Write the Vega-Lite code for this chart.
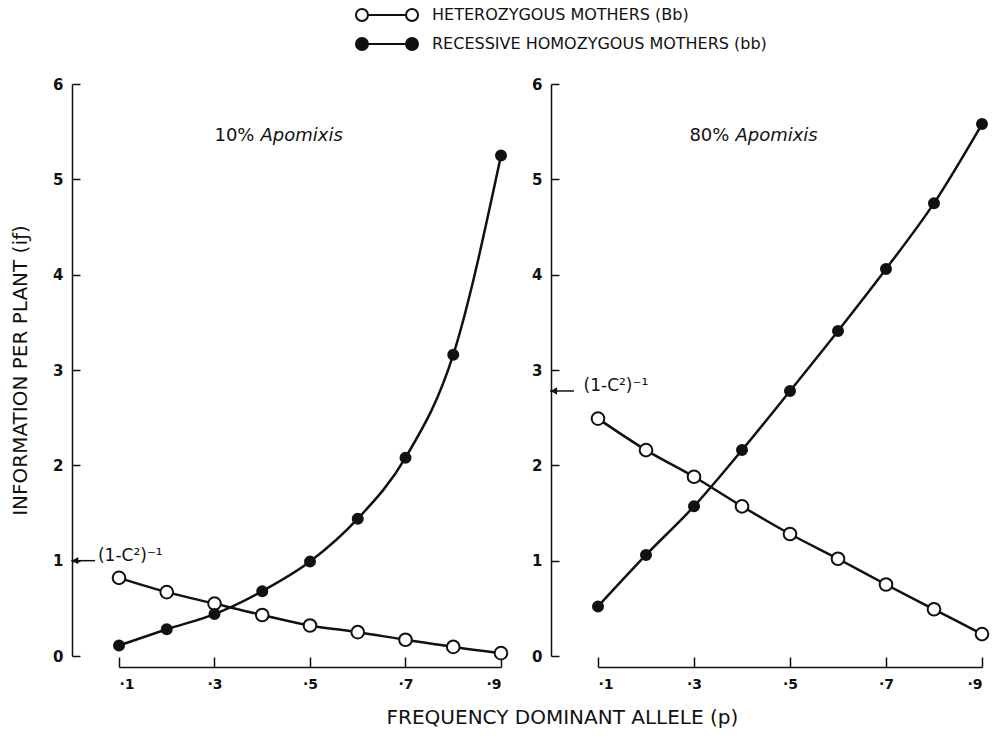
{
  "$schema": "https://vega.github.io/schema/vega-lite/v6.json",
  "background": "white",
  "padding": {"left": 10, "top": 7, "right": 5, "bottom": 5},
  "config": {
    "font": "DejaVu Sans",
    "view": {"stroke": null},
    "axis": {"grid": false, "domainColor": "#111", "domainWidth": 1.5, "tickColor": "#111", "tickWidth": 1.5, "labelColor": "#111", "titleColor": "#111"},
    "legend": {"title": null, "orient": "none", "legendX": 260, "legendY": -77, "direction": "vertical", "symbolType": "M-3.17,0L3.17,0M-5.17,0C-5.17,-0.552,-4.722,-1,-4.17,-1C-3.618,-1,-3.17,-0.552,-3.17,0C-3.17,0.552,-3.618,1,-4.17,1C-4.722,1,-5.17,0.552,-5.17,0ZM3.17,0C3.17,-0.552,3.618,-1,4.17,-1C4.722,-1,5.17,-0.552,5.17,0C5.17,0.552,4.722,1,4.17,1C3.618,1,3.17,0.552,3.17,0Z", "symbolSize": 144, "symbolStrokeColor": "#111", "symbolStrokeWidth": 2, "labelFontSize": 16, "labelColor": "#111", "labelOffset": 37, "rowPadding": 9, "padding": 0, "labelLimit": 500}
  },
  "datasets": {
    "curves": [
      {"panel": "10%", "series": "HETEROZYGOUS MOTHERS (Bb)", "p": 0.1, "info": 0.82},
      {"panel": "10%", "series": "HETEROZYGOUS MOTHERS (Bb)", "p": 0.2, "info": 0.67},
      {"panel": "10%", "series": "HETEROZYGOUS MOTHERS (Bb)", "p": 0.3, "info": 0.55},
      {"panel": "10%", "series": "HETEROZYGOUS MOTHERS (Bb)", "p": 0.4, "info": 0.43},
      {"panel": "10%", "series": "HETEROZYGOUS MOTHERS (Bb)", "p": 0.5, "info": 0.32},
      {"panel": "10%", "series": "HETEROZYGOUS MOTHERS (Bb)", "p": 0.6, "info": 0.25},
      {"panel": "10%", "series": "HETEROZYGOUS MOTHERS (Bb)", "p": 0.7, "info": 0.17},
      {"panel": "10%", "series": "HETEROZYGOUS MOTHERS (Bb)", "p": 0.8, "info": 0.095},
      {"panel": "10%", "series": "HETEROZYGOUS MOTHERS (Bb)", "p": 0.9, "info": 0.03},
      {"panel": "10%", "series": "RECESSIVE HOMOZYGOUS MOTHERS (bb)", "p": 0.1, "info": 0.11},
      {"panel": "10%", "series": "RECESSIVE HOMOZYGOUS MOTHERS (bb)", "p": 0.2, "info": 0.28},
      {"panel": "10%", "series": "RECESSIVE HOMOZYGOUS MOTHERS (bb)", "p": 0.3, "info": 0.44},
      {"panel": "10%", "series": "RECESSIVE HOMOZYGOUS MOTHERS (bb)", "p": 0.4, "info": 0.68},
      {"panel": "10%", "series": "RECESSIVE HOMOZYGOUS MOTHERS (bb)", "p": 0.5, "info": 0.99},
      {"panel": "10%", "series": "RECESSIVE HOMOZYGOUS MOTHERS (bb)", "p": 0.6, "info": 1.44},
      {"panel": "10%", "series": "RECESSIVE HOMOZYGOUS MOTHERS (bb)", "p": 0.7, "info": 2.08},
      {"panel": "10%", "series": "RECESSIVE HOMOZYGOUS MOTHERS (bb)", "p": 0.8, "info": 3.16},
      {"panel": "10%", "series": "RECESSIVE HOMOZYGOUS MOTHERS (bb)", "p": 0.9, "info": 5.25},
      {"panel": "80%", "series": "HETEROZYGOUS MOTHERS (Bb)", "p": 0.1, "info": 2.49},
      {"panel": "80%", "series": "HETEROZYGOUS MOTHERS (Bb)", "p": 0.2, "info": 2.16},
      {"panel": "80%", "series": "HETEROZYGOUS MOTHERS (Bb)", "p": 0.3, "info": 1.88},
      {"panel": "80%", "series": "HETEROZYGOUS MOTHERS (Bb)", "p": 0.4, "info": 1.57},
      {"panel": "80%", "series": "HETEROZYGOUS MOTHERS (Bb)", "p": 0.5, "info": 1.28},
      {"panel": "80%", "series": "HETEROZYGOUS MOTHERS (Bb)", "p": 0.6, "info": 1.02},
      {"panel": "80%", "series": "HETEROZYGOUS MOTHERS (Bb)", "p": 0.7, "info": 0.75},
      {"panel": "80%", "series": "HETEROZYGOUS MOTHERS (Bb)", "p": 0.8, "info": 0.49},
      {"panel": "80%", "series": "HETEROZYGOUS MOTHERS (Bb)", "p": 0.9, "info": 0.23},
      {"panel": "80%", "series": "RECESSIVE HOMOZYGOUS MOTHERS (bb)", "p": 0.1, "info": 0.52},
      {"panel": "80%", "series": "RECESSIVE HOMOZYGOUS MOTHERS (bb)", "p": 0.2, "info": 1.06},
      {"panel": "80%", "series": "RECESSIVE HOMOZYGOUS MOTHERS (bb)", "p": 0.3, "info": 1.57},
      {"panel": "80%", "series": "RECESSIVE HOMOZYGOUS MOTHERS (bb)", "p": 0.4, "info": 2.16},
      {"panel": "80%", "series": "RECESSIVE HOMOZYGOUS MOTHERS (bb)", "p": 0.5, "info": 2.78},
      {"panel": "80%", "series": "RECESSIVE HOMOZYGOUS MOTHERS (bb)", "p": 0.6, "info": 3.41},
      {"panel": "80%", "series": "RECESSIVE HOMOZYGOUS MOTHERS (bb)", "p": 0.7, "info": 4.06},
      {"panel": "80%", "series": "RECESSIVE HOMOZYGOUS MOTHERS (bb)", "p": 0.8, "info": 4.75},
      {"panel": "80%", "series": "RECESSIVE HOMOZYGOUS MOTHERS (bb)", "p": 0.9, "info": 5.58}
    ],
    "notes": [
      {"panel": "10%", "c": 1.0, "label": "(1-C²)⁻¹", "pct": "10%", "word": "Apomixis"},
      {"panel": "80%", "c": 2.78, "label": "(1-C²)⁻¹", "pct": "80%", "word": "Apomixis"}
    ]
  },
  "title": {"text": "FREQUENCY DOMINANT ALLELE (p)", "orient": "bottom", "anchor": "middle", "fontSize": 20, "fontWeight": "normal", "color": "#111", "dx": 61, "offset": 17, "font": "DejaVu Sans"},
  "spacing": 19,
  "hconcat": [
    {
      "width": 382,
      "height": 572,
      "layer": [
        {
          "data": {"name": "curves"},
          "transform": [{"filter": "datum.panel === '10%'"}],
          "mark": {"type": "line", "color": "#111", "strokeWidth": 2.5, "interpolate": "monotone"},
          "encoding": {
            "x": {"field": "p", "type": "quantitative", "scale": {"domain": [0.1, 0.9]},
              "axis": {"title": null, "values": [0.1, 0.3, 0.5, 0.7, 0.9], "labelExpr": "'·' + round(datum.value * 10)", "offset": 11, "tickSize": -10, "labelPadding": 20, "labelFontSize": 14, "labelFontWeight": "bold"}},
            "y": {"field": "info", "type": "quantitative", "scale": {"domain": [0, 6]},
              "axis": {"title": "INFORMATION PER PLANT (iƒ)", "titleFontSize": 20, "titleFontWeight": "normal", "titlePadding": 22, "values": [0, 1, 2, 3, 4, 5, 6], "format": "d", "offset": 47, "tickSize": -8, "labelPadding": 17, "labelFontSize": 15, "labelFontWeight": "bold"}},
            "detail": {"field": "series"}
          }
        },
        {
          "data": {"name": "curves"},
          "transform": [{"filter": "datum.panel === '10%' && datum.series === 'HETEROZYGOUS MOTHERS (Bb)'"}],
          "mark": {"type": "point", "filled": true, "stroke": "#111", "strokeWidth": 2, "opacity": 1, "size": 160},
          "encoding": {
            "x": {"field": "p", "type": "quantitative"},
            "y": {"field": "info", "type": "quantitative"},
            "fill": {"field": "series", "type": "nominal",
              "scale": {"domain": ["HETEROZYGOUS MOTHERS (Bb)", "RECESSIVE HOMOZYGOUS MOTHERS (bb)"], "range": ["white", "#111"]}}
          }
        },
        {
          "data": {"name": "curves"},
          "transform": [{"filter": "datum.panel === '10%' && datum.series !== 'HETEROZYGOUS MOTHERS (Bb)'"}],
          "mark": {"type": "point", "filled": true, "stroke": "#111", "strokeWidth": 2, "opacity": 1, "size": 100},
          "encoding": {
            "x": {"field": "p", "type": "quantitative"},
            "y": {"field": "info", "type": "quantitative"},
            "fill": {"field": "series", "type": "nominal",
              "scale": {"domain": ["HETEROZYGOUS MOTHERS (Bb)", "RECESSIVE HOMOZYGOUS MOTHERS (bb)"], "range": ["white", "#111"]}}
          }
        },
        {
          "data": {"name": "notes"},
          "transform": [{"filter": "datum.panel === '10%'"}],
          "mark": {"type": "rule", "color": "#111", "strokeWidth": 1.5},
          "encoding": {"x": {"datum": 0.0, "type": "quantitative"}, "x2": {"datum": 0.05}, "y": {"field": "c", "type": "quantitative"}}
        },
        {
          "data": {"name": "notes"},
          "transform": [{"filter": "datum.panel === '10%'"}],
          "mark": {"type": "point", "shape": "triangle-left", "filled": true, "color": "#111", "size": 55, "opacity": 1},
          "encoding": {"x": {"datum": 0.008, "type": "quantitative"}, "y": {"field": "c", "type": "quantitative"}}
        },
        {
          "data": {"name": "notes"},
          "transform": [{"filter": "datum.panel === '10%'"}],
          "mark": {"type": "text", "align": "left", "baseline": "middle", "dy": -5, "fontSize": 17, "color": "#111"},
          "encoding": {"x": {"datum": 0.056, "type": "quantitative"}, "y": {"field": "c", "type": "quantitative"}, "text": {"field": "label"}}
        },
        {
          "data": {"name": "notes"},
          "transform": [{"filter": "datum.panel === '10%'"}],
          "mark": {"type": "text", "align": "right", "baseline": "middle", "dx": -3, "fontSize": 18, "color": "#111"},
          "encoding": {"x": {"datum": 0.39, "type": "quantitative"}, "y": {"datum": 5.45, "type": "quantitative"}, "text": {"field": "pct"}}
        },
        {
          "data": {"name": "notes"},
          "transform": [{"filter": "datum.panel === '10%'"}],
          "mark": {"type": "text", "align": "left", "baseline": "middle", "dx": 3, "fontSize": 18, "fontStyle": "italic", "color": "#111"},
          "encoding": {"x": {"datum": 0.39, "type": "quantitative"}, "y": {"datum": 5.45, "type": "quantitative"}, "text": {"field": "word"}}
        }
      ]
    },
    {
      "width": 384,
      "height": 572,
      "layer": [
        {
          "data": {"name": "curves"},
          "transform": [{"filter": "datum.panel === '80%'"}],
          "mark": {"type": "line", "color": "#111", "strokeWidth": 2.5, "interpolate": "monotone"},
          "encoding": {
            "x": {"field": "p", "type": "quantitative", "scale": {"domain": [0.1, 0.9]},
              "axis": {"title": null, "values": [0.1, 0.3, 0.5, 0.7, 0.9], "labelExpr": "'·' + round(datum.value * 10)", "offset": 11, "tickSize": -10, "labelPadding": 20, "labelFontSize": 14, "labelFontWeight": "bold"}},
            "y": {"field": "info", "type": "quantitative", "scale": {"domain": [0, 6]},
              "axis": {"title": null, "values": [0, 1, 2, 3, 4, 5, 6], "format": "d", "offset": 47, "tickSize": -8, "labelPadding": 17, "labelFontSize": 15, "labelFontWeight": "bold"}},
            "detail": {"field": "series"}
          }
        },
        {
          "data": {"name": "curves"},
          "transform": [{"filter": "datum.panel === '80%' && datum.series === 'HETEROZYGOUS MOTHERS (Bb)'"}],
          "mark": {"type": "point", "filled": true, "stroke": "#111", "strokeWidth": 2, "opacity": 1, "size": 160},
          "encoding": {
            "x": {"field": "p", "type": "quantitative"},
            "y": {"field": "info", "type": "quantitative"},
            "fill": {"field": "series", "type": "nominal",
              "scale": {"domain": ["HETEROZYGOUS MOTHERS (Bb)", "RECESSIVE HOMOZYGOUS MOTHERS (bb)"], "range": ["white", "#111"]}}
          }
        },
        {
          "data": {"name": "curves"},
          "transform": [{"filter": "datum.panel === '80%' && datum.series !== 'HETEROZYGOUS MOTHERS (Bb)'"}],
          "mark": {"type": "point", "filled": true, "stroke": "#111", "strokeWidth": 2, "opacity": 1, "size": 100},
          "encoding": {
            "x": {"field": "p", "type": "quantitative"},
            "y": {"field": "info", "type": "quantitative"},
            "fill": {"field": "series", "type": "nominal",
              "scale": {"domain": ["HETEROZYGOUS MOTHERS (Bb)", "RECESSIVE HOMOZYGOUS MOTHERS (bb)"], "range": ["white", "#111"]}}
          }
        },
        {
          "data": {"name": "notes"},
          "transform": [{"filter": "datum.panel === '80%'"}],
          "mark": {"type": "rule", "color": "#111", "strokeWidth": 1.5},
          "encoding": {"x": {"datum": 0.0, "type": "quantitative"}, "x2": {"datum": 0.05}, "y": {"field": "c", "type": "quantitative"}}
        },
        {
          "data": {"name": "notes"},
          "transform": [{"filter": "datum.panel === '80%'"}],
          "mark": {"type": "point", "shape": "triangle-left", "filled": true, "color": "#111", "size": 55, "opacity": 1},
          "encoding": {"x": {"datum": 0.008, "type": "quantitative"}, "y": {"field": "c", "type": "quantitative"}}
        },
        {
          "data": {"name": "notes"},
          "transform": [{"filter": "datum.panel === '80%'"}],
          "mark": {"type": "text", "align": "left", "baseline": "middle", "dy": -5, "fontSize": 17, "color": "#111"},
          "encoding": {"x": {"datum": 0.07, "type": "quantitative"}, "y": {"field": "c", "type": "quantitative"}, "text": {"field": "label"}}
        },
        {
          "data": {"name": "notes"},
          "transform": [{"filter": "datum.panel === '80%'"}],
          "mark": {"type": "text", "align": "right", "baseline": "middle", "dx": -3, "fontSize": 18, "color": "#111"},
          "encoding": {"x": {"datum": 0.38, "type": "quantitative"}, "y": {"datum": 5.45, "type": "quantitative"}, "text": {"field": "pct"}}
        },
        {
          "data": {"name": "notes"},
          "transform": [{"filter": "datum.panel === '80%'"}],
          "mark": {"type": "text", "align": "left", "baseline": "middle", "dx": 3, "fontSize": 18, "fontStyle": "italic", "color": "#111"},
          "encoding": {"x": {"datum": 0.38, "type": "quantitative"}, "y": {"datum": 5.45, "type": "quantitative"}, "text": {"field": "word"}}
        }
      ]
    }
  ]
}
